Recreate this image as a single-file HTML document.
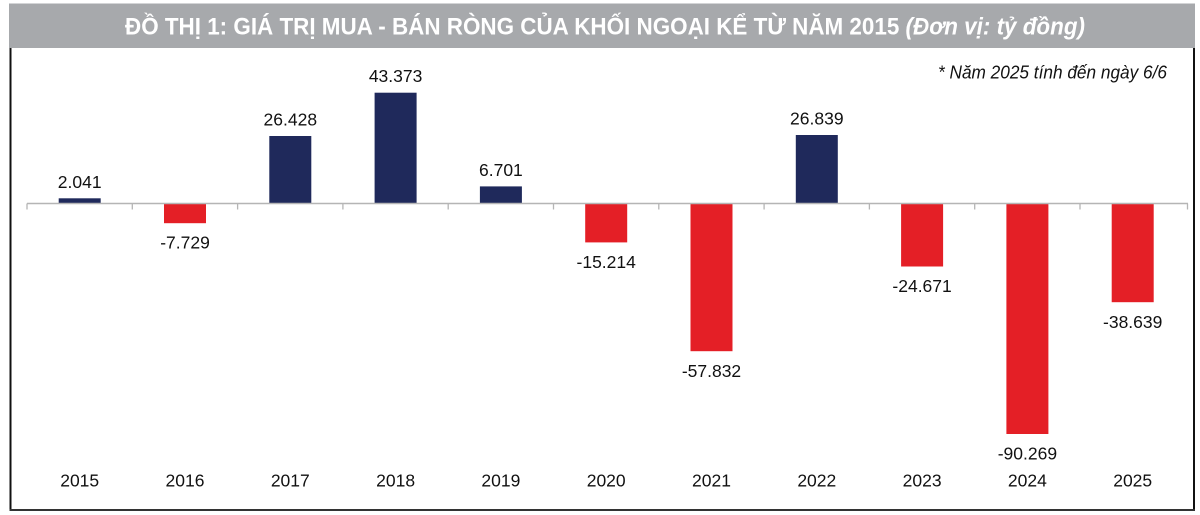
<!DOCTYPE html>
<html>
<head>
<meta charset="utf-8">
<style>
html,body{margin:0;padding:0;background:#fff;}
svg{display:block;}
</style>
</head>
<body>
<svg width="1200" height="515" viewBox="0 0 1200 515" xmlns="http://www.w3.org/2000/svg">
  <rect x="0" y="0" width="1200" height="515" fill="#ffffff"/>
  <!-- Title bar -->
  <rect x="9" y="3.5" width="1186" height="44.5" fill="#a7a9ac"/>
  <text x="125" y="34.5" font-family="'Liberation Sans', sans-serif" font-size="24" font-weight="bold" fill="#ffffff" textLength="960" lengthAdjust="spacingAndGlyphs">ĐỒ THỊ 1: GIÁ TRỊ MUA - BÁN RÒNG CỦA KHỐI NGOẠI KỂ TỪ NĂM 2015 <tspan font-style="italic">(Đơn vị: tỷ đồng)</tspan></text>

  <!-- Frame -->
  <rect x="9.5" y="48" width="2" height="463" fill="#111"/>
  <rect x="1193" y="48" width="2" height="463" fill="#111"/>
  <rect x="9.5" y="509" width="1185.5" height="2" fill="#333"/>

  <!-- Note -->
  <text x="938" y="78.5" font-family="'Liberation Sans', sans-serif" font-size="18" font-style="italic" fill="#111" textLength="229" lengthAdjust="spacingAndGlyphs">* Năm 2025 tính đến ngày 6/6</text>

  <!-- Bars -->
  <g>
    <rect x="58.7"  y="198.3" width="42" height="5.2"   fill="#1f295b"/>
    <rect x="164"   y="203.5" width="42" height="19.7"  fill="#e41f26"/>
    <rect x="269.3" y="136.0" width="42" height="67.5"  fill="#1f295b"/>
    <rect x="374.6" y="92.7"  width="42" height="110.8" fill="#1f295b"/>
    <rect x="479.9" y="186.4" width="42" height="17.1"  fill="#1f295b"/>
    <rect x="585.2" y="203.5" width="42" height="38.9"  fill="#e41f26"/>
    <rect x="690.5" y="203.5" width="42" height="147.7" fill="#e41f26"/>
    <rect x="795.8" y="135.0" width="42" height="68.5"  fill="#1f295b"/>
    <rect x="901.1" y="203.5" width="42" height="63.0"  fill="#e41f26"/>
    <rect x="1006.4" y="203.5" width="42" height="230.5" fill="#e41f26"/>
    <rect x="1111.7" y="203.5" width="42" height="98.7"  fill="#e41f26"/>
  </g>

  <!-- Axis -->
  <line x1="27" y1="203.5" x2="1188" y2="203.5" stroke="#b5b5b5" stroke-width="1.5"/>
  <g stroke="#b5b5b5" stroke-width="1.3">
    <line x1="27" y1="203.5" x2="27" y2="209.5"/>
    <line x1="132.3" y1="203.5" x2="132.3" y2="209.5"/>
    <line x1="237.6" y1="203.5" x2="237.6" y2="209.5"/>
    <line x1="342.9" y1="203.5" x2="342.9" y2="209.5"/>
    <line x1="448.2" y1="203.5" x2="448.2" y2="209.5"/>
    <line x1="553.5" y1="203.5" x2="553.5" y2="209.5"/>
    <line x1="658.8" y1="203.5" x2="658.8" y2="209.5"/>
    <line x1="764.1" y1="203.5" x2="764.1" y2="209.5"/>
    <line x1="869.4" y1="203.5" x2="869.4" y2="209.5"/>
    <line x1="974.7" y1="203.5" x2="974.7" y2="209.5"/>
    <line x1="1080" y1="203.5" x2="1080" y2="209.5"/>
    <line x1="1187.5" y1="203.5" x2="1187.5" y2="209.5"/>
  </g>

  <!-- Value labels -->
  <g font-family="'Liberation Sans', sans-serif" font-size="17.5" fill="#111" text-anchor="middle">
    <text x="79.7"  y="188">2.041</text>
    <text x="185"   y="248.7">-7.729</text>
    <text x="290.3" y="125.5">26.428</text>
    <text x="395.6" y="82">43.373</text>
    <text x="500.9" y="176">6.701</text>
    <text x="606.2" y="268">-15.214</text>
    <text x="711.5" y="376.8">-57.832</text>
    <text x="816.8" y="124.5">26.839</text>
    <text x="922.1" y="292">-24.671</text>
    <text x="1027.4" y="459.7">-90.269</text>
    <text x="1132.7" y="327.8">-38.639</text>
  </g>

  <!-- Category labels -->
  <g font-family="'Liberation Sans', sans-serif" font-size="17.5" fill="#111" text-anchor="middle">
    <text x="79.7"  y="486.7">2015</text>
    <text x="185"   y="486.7">2016</text>
    <text x="290.3" y="486.7">2017</text>
    <text x="395.6" y="486.7">2018</text>
    <text x="500.9" y="486.7">2019</text>
    <text x="606.2" y="486.7">2020</text>
    <text x="711.5" y="486.7">2021</text>
    <text x="816.8" y="486.7">2022</text>
    <text x="922.1" y="486.7">2023</text>
    <text x="1027.4" y="486.7">2024</text>
    <text x="1132.7" y="486.7">2025</text>
  </g>
</svg>
</body>
</html>
